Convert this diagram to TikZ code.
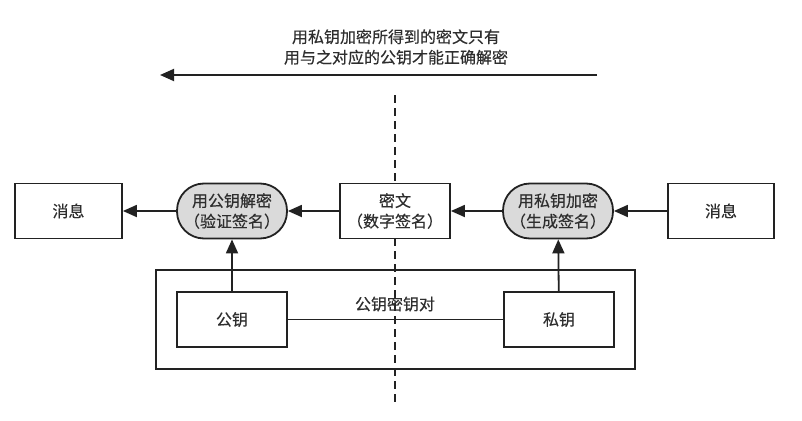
\documentclass[tikz,border=0pt]{standalone}
\usepackage{fontspec}
\setmainfont{Noto Sans CJK SC}[FakeBold=0.4]
\usetikzlibrary{arrows.meta}
\definecolor{ink}{HTML}{222222}
\definecolor{tink}{HTML}{2E2E2E}
\definecolor{ovalfill}{HTML}{DADADA}
\tikzset{
  box/.style={draw=ink, line width=1.8pt, fill=white, minimum width=108pt, minimum height=55pt, inner sep=0pt, align=center, text=tink},
  oval/.style={box, fill=ovalfill, rounded corners=27pt, minimum width=110pt},
  arr/.style={draw=ink, line width=1.8pt, -{Triangle[length=14pt,width=12pt]}},
  conn/.style={draw=ink, line width=1.8pt},
  txt/.style={font=\fontsize{16}{20.5}\selectfont, text=tink}
}
\begin{document}
\begin{tikzpicture}[x=1pt,y=-1pt]
\useasboundingbox (0,0) rectangle (802,420);
% dashed divider
\coordinate (dtop) at (395,95);
\coordinate (dbot) at (395,403);
\draw[ink, line width=1.8pt, dash pattern=on 8pt off 5pt] (dtop) -- (dbot);
% top caption and arrow
\node[txt, align=center] (cap) at (396,47) {用私钥加密所得到的密文只有\\用与之对应的公钥才能正确解密};
\coordinate (ta) at (597,75);
\coordinate (tb) at (160,75);
\draw[arr] (ta) -- (tb);
% outer key-pair box
\node[draw=ink, line width=1.8pt, minimum width=479pt, minimum height=99pt, inner sep=0pt] (pair) at (395.5,319.5) {};
% row nodes
\node[box, txt, minimum width=107pt] (msgL) at (68.5,211) {消息};
\node[oval, txt] (verify) at (232,211) {用公钥解密\\（验证签名）};
\node[box, txt, minimum width=110pt] (cipher) at (395,211) {密文\\（数字签名）};
\node[oval, txt] (sign) at (558,211) {用私钥加密\\（生成签名）};
\node[box, txt, minimum width=106pt] (msgR) at (721,211) {消息};
% key nodes
\node[box, txt, minimum width=110pt] (pub) at (232,319.5) {公钥};
\node[box, txt, minimum width=110pt] (priv) at (559,319.5) {私钥};
\draw[conn] (pub) -- (priv);
\node[txt] (pairlbl) at (395,304) {公钥密钥对};
% arrows
\draw[arr] (msgR) -- (sign);
\draw[arr] (sign) -- (cipher);
\draw[arr] (cipher) -- (verify);
\draw[arr] (verify) -- (msgL);
\draw[arr] (pub) -- (verify);
\draw[arr] (priv) -- (sign);
\end{tikzpicture}
\end{document}
